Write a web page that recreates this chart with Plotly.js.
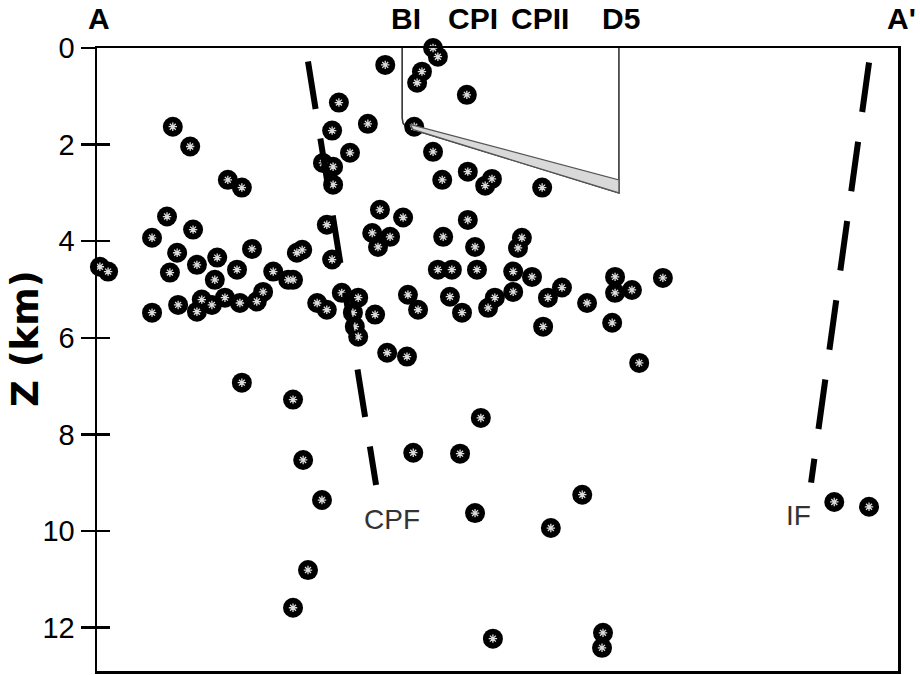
<!DOCTYPE html>
<html>
<head>
<meta charset="utf-8">
<script src="https://cdn.plot.ly/plotly-3.0.1.min.js"></script>
<style>html,body{margin:0;padding:0;background:#fff}#chart{width:920px;height:675px}</style>
</head>
<body>
<div id="chart"></div>
<script>
// Hypocentres: distance along profile A–A' (km) and depth Z (km)
var quakeX = [0.06,0.23,1.57,1.93,2.71,3.00,1.45,1.99,1.14,3.21,1.66,2.49,1.51,2.07,2.90,2.44,3.65,3.96,4.14,1.14,1.68,2.07,2.17,2.38,2.65,2.96,3.31,3.44,3.00,4.06,4.27,4.66,4.37,4.06,
  5.01,5.61,4.87,5.24,4.68,4.89,4.89,4.76,4.87,4.25,4.06,4.56,4.76,5.07,5.41,5.76,5.30,5.34,5.41,6.01,6.42,5.86,6.34,5.70,6.07,5.82,6.44,6.65,5.97,
  6.96,7.06,6.73,6.63,6.57,7.66,6.96,7.15,7.68,8.04,8.18,9.22,7.68,7.17,7.83,7.06,7.35,7.87,8.80,8.72,8.62,9.01,8.62,7.31,7.56,8.24,8.10,9.34,9.63,10.15,9.24,10.73,10.73,11.08,11.72,10.67,11.23,7.95,7.52,6.55,10.05,7.83,9.40,15.27,15.99,8.20,10.48,10.46];
var quakeZ = [4.53,4.63,1.63,2.04,2.73,2.89,3.49,3.76,3.93,4.16,4.24,4.34,4.65,4.49,4.59,4.80,4.63,4.80,4.24,5.48,5.32,5.46,5.21,5.32,5.17,5.28,5.25,5.05,6.93,7.28,8.53,9.36,10.81,11.59,
  1.13,1.57,1.71,2.17,2.38,2.46,2.83,3.66,4.38,4.18,4.80,5.28,5.42,5.07,5.17,5.52,5.48,5.77,5.98,6.31,6.39,3.35,3.51,3.83,3.91,4.12,5.11,5.42,0.35,
  0.00,0.18,0.49,0.72,1.63,0.97,2.15,2.73,2.56,2.85,2.71,2.89,3.56,3.91,4.12,4.59,4.59,4.59,3.93,4.14,4.63,4.74,5.05,5.15,5.48,5.17,5.38,5.17,4.96,5.28,5.77,4.74,5.07,5.01,4.76,5.69,6.52,7.66,8.40,8.38,9.25,9.63,9.94,9.40,9.50,12.23,12.11,12.42];

// Faults (dashed traces)
var cpfX = [4.37, 5.78];
var cpfZ = [0.28, 9.05];
var ifX  = [15.99, 14.79];
var ifZ  = [0.30, 9.00];

// Well outline BI -> D5
var wellOutlineX = [6.32, 6.32, 6.34, 6.40, 6.47, 6.55, 10.81, 10.81];
var wellOutlineZ = [0.00, 1.45, 1.56, 1.63, 1.67, 1.69, 3.00, 0.00];
var bandX = [6.48, 10.81, 10.81, 6.55, 6.48];
var bandZ = [1.58, 2.73, 3.00, 1.69, 1.58];

// Labels
var siteNames = ['A', 'BI', 'CPI', 'CPII', 'D5', "A'"];
var siteX = [0.04, 6.40, 7.79, 9.18, 10.86, 16.67];
var faultNames = ['CPF', 'IF'];
var faultLabelX = [6.11, 14.52];
var faultLabelZ = [9.77, 9.67];
var depthTicks = [0, 2, 4, 6, 8, 10, 12];
var xMax = 16.59;

var traces = [
  {x: cpfX, y: cpfZ, xaxis: 'x', yaxis: 'y2', mode: 'lines', line: {color: '#000', width: 6, dash: '48px,30px'}, hoverinfo: 'skip'},
  {x: ifX, y: ifZ, xaxis: 'x', yaxis: 'y2', mode: 'lines', line: {color: '#000', width: 6, dash: '50px,30px'}, hoverinfo: 'skip'},
  {x: wellOutlineX, y: wellOutlineZ, mode: 'lines', line: {color: '#333', width: 1.6}, hoverinfo: 'skip'},
  {x: quakeX, y: quakeZ, mode: 'markers', cliponaxis: false,
   marker: {symbol: 'circle', size: 20, color: '#000', line: {width: 0}}},
  {x: quakeX, y: quakeZ, mode: 'markers', cliponaxis: false,
   marker: {symbol: 'asterisk-open', size: 7, color: '#dcdcdc', line: {width: 1.3, color: '#dcdcdc'}}},
  {x: bandX, y: bandZ, mode: 'lines', fill: 'toself', fillcolor: '#d9d9d9', line: {color: '#555', width: 1.2}, hoverinfo: 'skip'}
];

var annotations = [];
for (var i = 0; i < siteNames.length; i++) {
  annotations.push({x: siteX[i] / xMax, xref: 'paper', y: 1.047, yref: 'paper', text: '<b>' + siteNames[i] + '</b>',
    showarrow: false, xanchor: 'center', yanchor: 'middle',
    font: {family: 'Arial, Liberation Sans, sans-serif', size: 30, color: '#000'}});
}
for (var j = 0; j < faultNames.length; j++) {
  annotations.push({x: faultLabelX[j], xref: 'x', y: faultLabelZ[j], yref: 'y', text: faultNames[j],
    showarrow: false, xanchor: 'center', yanchor: 'middle',
    font: {family: 'Arial, Liberation Sans, sans-serif', size: 28, color: '#333'}});
}
annotations.push({x: -0.0899, xref: 'paper', y: 0.5345, yref: 'paper', text: '<b>Z (km)</b>', textangle: -90,
  showarrow: false, xanchor: 'center', yanchor: 'middle',
  font: {family: 'DejaVu Sans, sans-serif', size: 37, color: '#000'}});

var layout = {
  width: 920, height: 675,
  margin: {l: 97, r: 22, t: 48, b: 4},
  paper_bgcolor: '#fff', plot_bgcolor: '#fff',
  showlegend: false,
  xaxis: {range: [0, xMax], showline: true, linecolor: '#000', linewidth: 2.5, mirror: true,
          showticklabels: false, ticks: '', showgrid: false, zeroline: false, fixedrange: true},
  yaxis: {range: [12.9, 0], tickvals: depthTicks, ticks: 'outside', ticklen: 14, tickwidth: 2.5, tickcolor: '#000',
          showline: true, linecolor: '#000', linewidth: 2.5, mirror: true, showgrid: false, zeroline: false,
          tickfont: {family: 'Arial, Liberation Sans, sans-serif', size: 29, color: '#000'}},
  yaxis2: {overlaying: 'y', matches: 'y', side: 'left', tickvals: depthTicks, ticks: 'inside', ticklen: 13,
           tickwidth: 2.5, tickcolor: '#000', showticklabels: false, showgrid: false, zeroline: false, showline: false},
  annotations: annotations
};

Plotly.newPlot('chart', traces, layout, {staticPlot: true});
</script>
</body>
</html>
